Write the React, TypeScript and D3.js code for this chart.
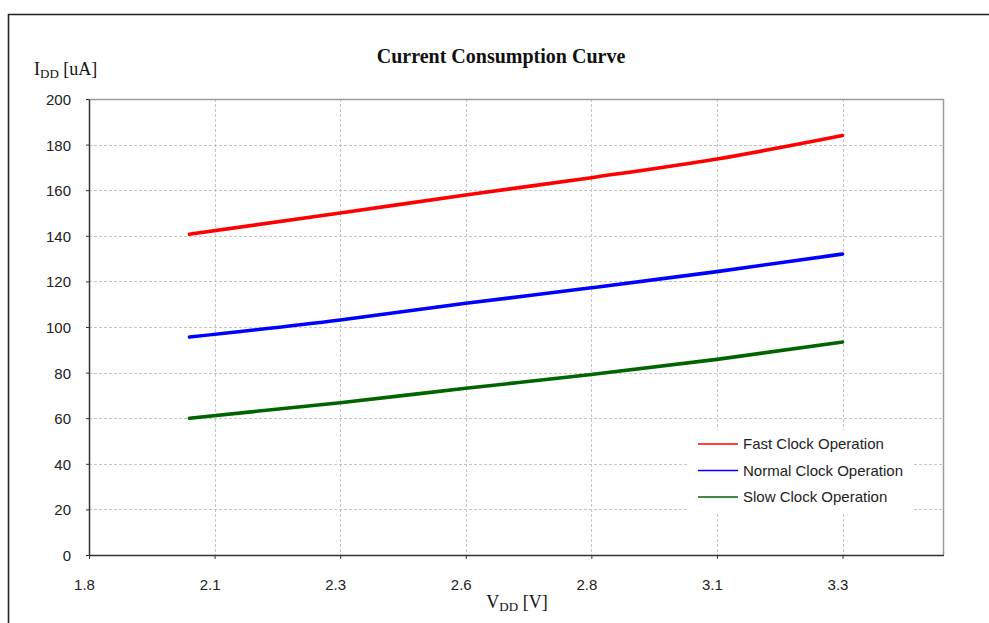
import React, { useEffect, useRef } from 'react';
import * as d3 from 'd3';

// supply voltage samples [V]
const vdd = [2.0, 2.3, 2.55, 2.8, 3.05, 3.3];
// current consumption [uA]
const fastClock = [140.7, 150.0, 157.9, 165.5, 173.7, 184.0];
const normalClock = [95.6, 103.1, 110.4, 117.2, 124.3, 132.0];
const slowClock = [60.0, 66.8, 73.1, 79.2, 85.8, 93.4];

const seriesNames = ['Fast Clock Operation', 'Normal Clock Operation', 'Slow Clock Operation'];
const seriesColors = ['#ff0000', '#0000ff', '#006400'];

const xTickValues = [1.8, 2.05, 2.3, 2.55, 2.8, 3.05, 3.3];
const xTickLabels = ['1.8', '2.1', '2.3', '2.6', '2.8', '3.1', '3.3'];
const yTickValues = [0, 20, 40, 60, 80, 100, 120, 140, 160, 180, 200];

const W = 989;
const H = 623;
const M = { left: 89, right: 943, top: 99, bottom: 555 };

export default function App() {
  const ref = useRef<SVGSVGElement | null>(null);

  useEffect(() => {
    const svg = d3.select(ref.current);
    svg.selectAll('*').remove();

    const x = d3.scaleLinear().domain([1.8, 3.5]).range([M.left, M.right]);
    const y = d3.scaleLinear().domain([0, 200]).range([M.bottom, M.top]);

    // outer frame
    svg.append('path')
      .attr('d', `M8.5,${H + 2}V14.5H${W + 2}`)
      .attr('fill', 'none')
      .attr('stroke', '#222')
      .attr('stroke-width', 1.6);

    // title + axis titles
    svg.append('text')
      .attr('x', 501).attr('y', 63)
      .attr('text-anchor', 'middle')
      .attr('font-family', '"Liberation Serif", serif')
      .attr('font-weight', 'bold')
      .attr('font-size', 20)
      .attr('fill', '#111')
      .text('Current Consumption Curve');

    const yl = svg.append('text')
      .attr('x', 34).attr('y', 75)
      .attr('font-family', '"Liberation Serif", serif')
      .attr('font-size', 18)
      .attr('fill', '#111');
    yl.append('tspan').text('I');
    yl.append('tspan').attr('font-size', 13).attr('dy', 3).text('DD');
    yl.append('tspan').attr('dy', -3).text(' [uA]');

    const xl = svg.append('text')
      .attr('x', 517).attr('y', 608)
      .attr('text-anchor', 'middle')
      .attr('font-family', '"Liberation Serif", serif')
      .attr('font-size', 18)
      .attr('fill', '#111');
    xl.append('tspan').text('V');
    xl.append('tspan').attr('font-size', 13).attr('dy', 3).text('DD');
    xl.append('tspan').attr('dy', -3).text(' [V]');

    // grid
    const grid = svg.append('g')
      .attr('stroke', '#c4c4c4')
      .attr('stroke-width', 1)
      .attr('stroke-dasharray', '3,2');
    grid.selectAll('line.h')
      .data(yTickValues.filter(d => d > 0 && d < 200))
      .enter().append('line')
      .attr('x1', M.left).attr('x2', M.right)
      .attr('y1', d => Math.round(y(d)) + 0.5).attr('y2', d => Math.round(y(d)) + 0.5);
    grid.selectAll('line.v')
      .data(xTickValues.slice(1))
      .enter().append('line')
      .attr('y1', M.top).attr('y2', M.bottom)
      .attr('x1', d => Math.round(x(d)) + 0.5).attr('x2', d => Math.round(x(d)) + 0.5);

    // plot border (top/right gray)
    svg.append('path')
      .attr('d', `M${M.left},${M.top + 0.5}H${M.right + 0.5}V${M.bottom}`)
      .attr('fill', 'none')
      .attr('stroke', '#9a9a9a')
      .attr('stroke-width', 1.5);

    // axes
    const xAxis = d3.axisBottom(x)
      .tickValues(xTickValues)
      .tickSize(4)
      .tickSizeOuter(0)
      .tickFormat((d, i) => xTickLabels[i]);
    const gx = svg.append('g')
      .attr('transform', `translate(0,${M.bottom})`)
      .call(xAxis);
    gx.select('.domain').attr('stroke', '#333').attr('stroke-width', 1.5)
      .attr('d', `M${M.left},0.5H${M.right + 1}`);
    gx.selectAll('.tick line').attr('stroke', '#333');
    gx.selectAll('.tick text')
      .attr('dx', -5).attr('dy', 0).attr('y', 35)
      .attr('font-family', '"Liberation Sans", Arial, sans-serif')
      .attr('font-size', 15)
      .attr('fill', '#222');

    const yAxis = d3.axisLeft(y)
      .tickValues(yTickValues)
      .tickSize(3)
      .tickSizeOuter(0)
      .tickFormat(d3.format('d'));
    const gy = svg.append('g')
      .attr('transform', `translate(${M.left},0)`)
      .call(yAxis);
    gy.select('.domain').attr('stroke', '#333').attr('stroke-width', 1.5);
    gy.selectAll('.tick line').attr('stroke', '#333');
    gy.selectAll('.tick text')
      .attr('x', -18).attr('dy', '0.36em')
      .attr('font-family', '"Liberation Sans", Arial, sans-serif')
      .attr('font-size', 15)
      .attr('fill', '#222');

    // series
    const line = d3.line<number>()
      .x((d, i) => x(vdd[i]))
      .y(d => y(d))
      .curve(d3.curveMonotoneX);
    [fastClock, normalClock, slowClock].forEach((s, i) => {
      svg.append('path')
        .datum(s)
        .attr('d', line)
        .attr('fill', 'none')
        .attr('stroke', seriesColors[i])
        .attr('stroke-width', 3.6)
        .attr('stroke-linecap', 'round');
    });

    // legend
    const lg = svg.append('g');
    lg.append('rect')
      .attr('x', 688).attr('y', 430).attr('width', 224).attr('height', 82)
      .attr('fill', '#fff');
    seriesNames.forEach((name, i) => {
      const yy = 444 + i * 26.5;
      lg.append('line')
        .attr('x1', 698).attr('x2', 738)
        .attr('y1', yy).attr('y2', yy)
        .attr('stroke', seriesColors[i])
        .attr('stroke-width', 1.6);
      lg.append('text')
        .attr('x', 743).attr('y', yy + 5)
        .attr('font-family', '"Liberation Sans", Arial, sans-serif')
        .attr('font-size', 15)
        .attr('fill', '#222')
        .text(name);
    });
  }, []);

  return (
    <svg
      ref={ref}
      width={W}
      height={H}
      style={{ position: 'absolute', left: 0, top: 0, background: '#fff' }}
    />
  );
}
